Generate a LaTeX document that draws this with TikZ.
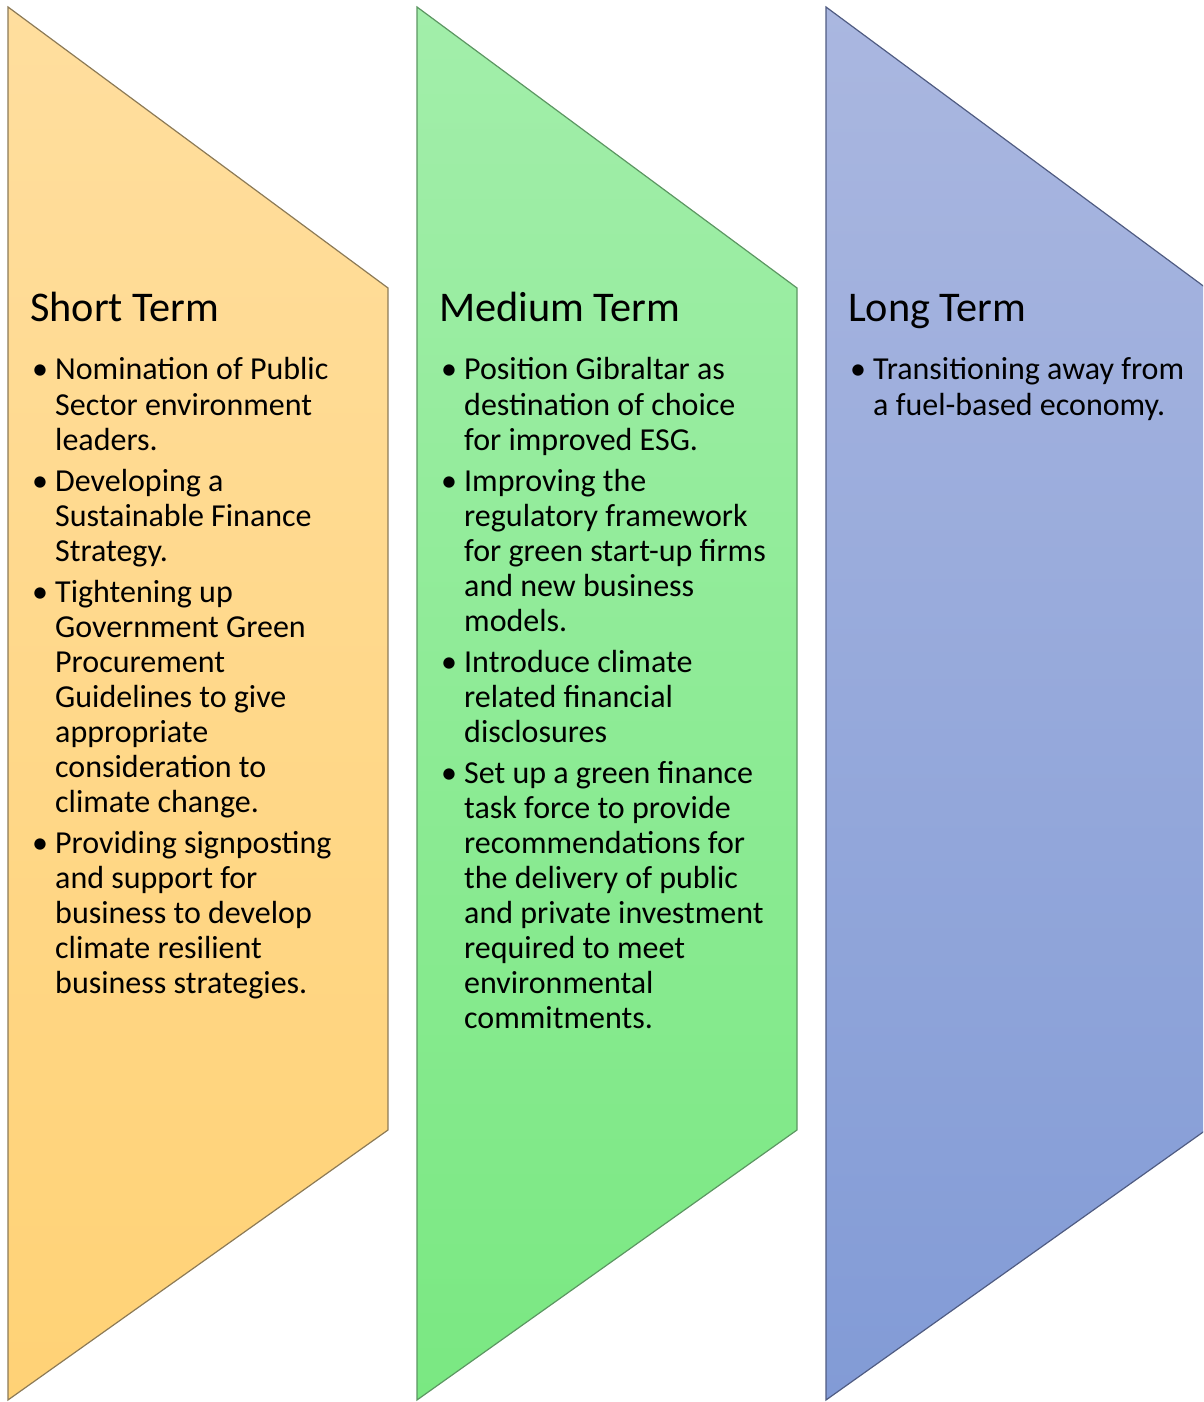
\documentclass[tikz,border=0pt]{standalone}
\usepackage{fontspec}
\setmainfont{Carlito}
\definecolor{orTop}{RGB}{255,222,158}
\definecolor{orBot}{RGB}{255,210,118}
\definecolor{orLine}{RGB}{140,122,86}
\definecolor{grTop}{RGB}{162,238,170}
\definecolor{grBot}{RGB}{122,232,130}
\definecolor{grLine}{RGB}{92,150,98}
\definecolor{blTop}{RGB}{170,183,224}
\definecolor{blBot}{RGB}{130,155,214}
\definecolor{blLine}{RGB}{80,92,130}
\newcommand{\titlefnt}{\fontsize{42.3}{50}\selectfont}
\newcommand{\bodyfnt}{\fontsize{32}{35.05}\selectfont}
\newcommand{\bitem}[1]{{\let\\\newline\noindent\hangindent=24pt\hangafter=1\makebox[24pt][l]{\hspace{1pt}•}#1\par}}
\newcommand{\colbody}[1]{\parbox[t]{400pt}{\bodyfnt\setlength{\parskip}{6pt}\setlength{\parindent}{0pt}#1}}
\begin{document}
\begin{tikzpicture}[x=1pt,y=1pt,
  chev/.style={line width=1.2pt, line join=miter},
  ttl/.style={anchor=base west, inner sep=0pt, font=\titlefnt},
  body/.style={anchor=base west, inner sep=0pt}]
\useasboundingbox (0,0) rectangle (1203,1402);
\begin{scope}
\clip (0,0) rectangle (1203,1402);
% orange
\path[top color=orTop, bottom color=orBot] (8,1395) -- (388,1114) -- (388,272) -- (8,2) -- cycle;
\draw[chev, draw=orLine] (8,1395) -- (388,1114) -- (388,272) -- (8,2) -- cycle;
% green
\path[top color=grTop, bottom color=grBot] (417,1395) -- (797,1114) -- (797,272) -- (417,2) -- cycle;
\draw[chev, draw=grLine] (417,1395) -- (797,1114) -- (797,272) -- (417,2) -- cycle;
% blue
\path[top color=blTop, bottom color=blBot] (826,1395) -- (1206,1114) -- (1206,272) -- (826,2) -- cycle;
\draw[chev, draw=blLine] (826,1395) -- (1206,1114) -- (1206,272) -- (826,2) -- cycle;
\end{scope}
% titles
\node[ttl] (t1) at (30,1080) {Short Term};
\node[ttl] (t2) at (439,1080) {Medium Term};
\node[ttl] (t3) at (848,1080) {Long Term};
% bodies
\node[body] (b1) at (31,1022) {\colbody{%
\bitem{Nomination of Public\\Sector environment\\leaders.}
\bitem{Developing a\\Sustainable Finance\\Strategy.}
\bitem{Tightening up\\Government Green\\Procurement\\Guidelines to give\\appropriate\\consideration to\\climate change.}
\bitem{Providing signposting\\and support for\\business to develop\\climate resilient\\business strategies.}}};
\node[body] (b2) at (440,1022) {\colbody{%
\bitem{Position Gibraltar as\\destination of choice\\for improved ESG.}
\bitem{Improving the\\regulatory framework\\for green start-up firms\\and new business\\models.}
\bitem{Introduce climate\\related financial\\disclosures}
\bitem{Set up a green finance\\task force to provide\\recommendations for\\the delivery of public\\and private investment\\required to meet\\environmental\\commitments.}}};
\node[body] (b3) at (849,1022) {\colbody{%
\bitem{Transitioning away from\\a fuel-based economy.}}};
\end{tikzpicture}
\end{document}
